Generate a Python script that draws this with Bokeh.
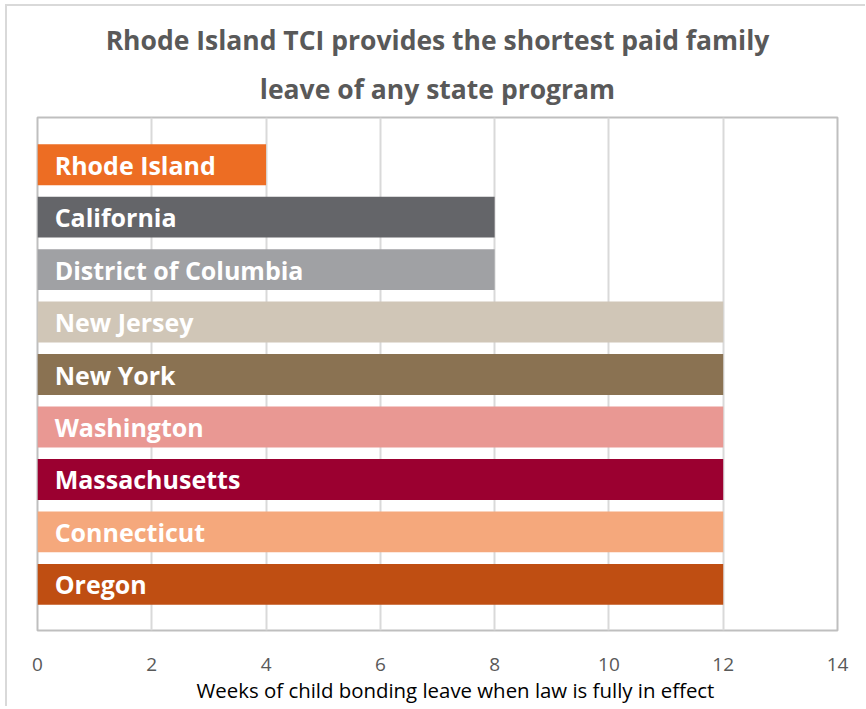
from bokeh.plotting import figure
from bokeh.models import ColumnDataSource, Range1d, FixedTicker, Title
from bokeh.core.properties import value
from bokeh.embed import file_html
from bokeh.resources import INLINE

states = ["Rhode Island", "California", "District of Columbia", "New Jersey",
          "New York", "Washington", "Massachusetts", "Connecticut", "Oregon"]
weeks = [4, 8, 8, 12, 12, 12, 12, 12, 12]
colors = ["#ED6D23", "#646569", "#A0A1A4", "#D0C6B7", "#8A7252",
          "#E99893", "#9B0030", "#F5A87C", "#BF4E12"]
x_ticks = [0, 2, 4, 6, 8, 10, 12, 14]
title_lines = ["Rhode Island TCI provides the shortest paid family",
               "leave of any state program"]
x_label = "Weeks of child bonding leave when law is fully in effect"

FONT = "Open Sans"

src = ColumnDataSource(dict(
    y=list(range(len(states))),
    w=weeks,
    c=colors,
    name=states,
    lx=[0.3] * len(states),
))

p = figure(width=860, height=702, output_backend="svg", toolbar_location=None,
           x_range=Range1d(0, 14), y_range=Range1d(8.88, -0.9),
           y_axis_location=None, min_border_left=30, min_border_right=30,
           min_border_top=111, min_border_bottom=78)
p.styles = {"margin-left": "5px", "margin-top": "4px",
            "border-left": "2px solid #d9d9d9", "border-top": "2px solid #d9d9d9"}

p.hbar(y="y", right="w", left=0, height=0.78, fill_color="c", line_color=None, source=src)
p.text(x="lx", y="y", text="name", source=src, text_color="white",
       text_font=value(FONT), text_font_style="bold", text_font_size="25px",
       text_baseline="middle", text_align="left")

p.title = None
t2 = Title(text=title_lines[1], align="center", text_font=FONT, text_font_size="26.5px",
           text_font_style="bold", text_color="#595959", standoff=22, offset=0)
t1 = Title(text=title_lines[0], align="center", text_font=FONT, text_font_size="26.5px",
           text_font_style="bold", text_color="#595959", standoff=0, offset=0)
p.add_layout(t2, "above")
p.add_layout(t1, "above")

p.xaxis.ticker = FixedTicker(ticks=x_ticks)
p.xaxis.axis_line_color = None
p.xaxis.major_tick_line_color = None
p.xaxis.minor_tick_line_color = None
p.xaxis.major_tick_out = 0
p.xaxis.major_label_standoff = 27
p.xaxis.major_label_text_font = FONT
p.xaxis.major_label_text_font_size = "19px"
p.xaxis.major_label_text_color = "#595959"

xl = Title(text=x_label, align="left", text_font=FONT, text_font_size="20.4px",
           text_font_style="normal", text_color="#000000", standoff=0, offset=159)
p.add_layout(xl, "below")

p.xgrid.grid_line_color = "#d9d9d9"
p.xgrid.grid_line_width = 2
p.ygrid.grid_line_color = None
p.outline_line_color = "#bfbfbf"
p.outline_line_width = 2
p.background_fill_color = "white"
p.border_fill_color = "white"

open("out.html", "w").write(file_html(p, INLINE))
